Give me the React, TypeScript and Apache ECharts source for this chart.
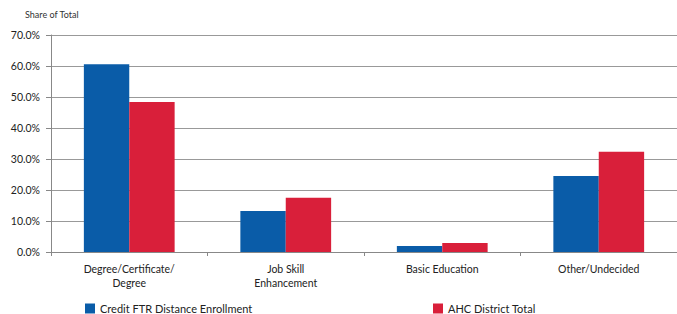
import React, { useEffect, useRef } from "react";
import * as echarts from "echarts";

const categories = ["Degree/Certificate/\nDegree", "Job Skill\nEnhancement", "Basic Education", "Other/Undecided"];
const seriesNames = ["Credit FTR Distance Enrollment", "AHC District Total"];
const creditValues = [60.6, 13.2, 1.9, 24.5];
const ahcValues = [48.4, 17.5, 2.9, 32.3];
const yTicks = { min: 0, max: 70, interval: 10 };

export default function App() {
  const ref = useRef<HTMLDivElement>(null);
  useEffect(() => {
    if (!ref.current) return;
    const chart = echarts.init(ref.current, undefined, { renderer: "svg" });
    const font = "Lato";
    chart.setOption({
      animation: false,
      backgroundColor: "#ffffff",
      textStyle: { fontFamily: font },
      graphic: [
        {
          type: "text",
          left: 25,
          top: 10,
          style: { text: "Share of Total", fontSize: 9, fill: "#333", fontFamily: font },
        },
      ],
      legend: [
        {
          data: [seriesNames[0]],
          left: 80,
          top: 298,
          itemWidth: 10,
          itemHeight: 10,
          icon: "rect",
          itemGap: 6,
          textStyle: { fontSize: 11, color: "#222", fontFamily: font },
        },
        {
          data: [seriesNames[1]],
          left: 428,
          top: 298,
          itemWidth: 10,
          itemHeight: 10,
          icon: "rect",
          textStyle: { fontSize: 11, color: "#222", fontFamily: font },
        },
      ],
      grid: { left: 51, right: -2, top: 35, bottom: 62 },
      xAxis: {
        type: "category",
        data: categories,
        axisLine: { lineStyle: { color: "#888", width: 1 } },
        axisTick: { show: true, length: 4, lineStyle: { color: "#888" } },
        axisLabel: { color: "#222", fontSize: 10.5, margin: 10, lineHeight: 14, fontFamily: font },
      },
      yAxis: {
        type: "value",
        min: yTicks.min,
        max: yTicks.max,
        interval: yTicks.interval,
        axisLine: { show: true, lineStyle: { color: "#888", width: 1 } },
        axisTick: { show: true, length: 5, lineStyle: { color: "#888" } },
        axisLabel: {
          color: "#222",
          fontSize: 10.5,
          margin: 11,
          fontFamily: font,
          formatter: (v: number) => v.toFixed(1) + "%",
        },
        splitLine: { show: true, lineStyle: { color: "#999", width: 1 } },
      },
      series: [
        {
          name: seriesNames[0],
          type: "bar",
          data: creditValues,
          itemStyle: { color: "#0a5ca8" },
          barGap: "0%",
          barCategoryGap: "42%",
        },
        {
          name: seriesNames[1],
          type: "bar",
          data: ahcValues,
          itemStyle: { color: "#d91f3a" },
          barGap: "0%",
          barCategoryGap: "42%",
        },
      ],
    });
    return () => chart.dispose();
  }, []);
  return (
    <div
      ref={ref}
      style={{ position: "fixed", left: 0, top: 0, width: 677, height: 314 }}
    />
  );
}
